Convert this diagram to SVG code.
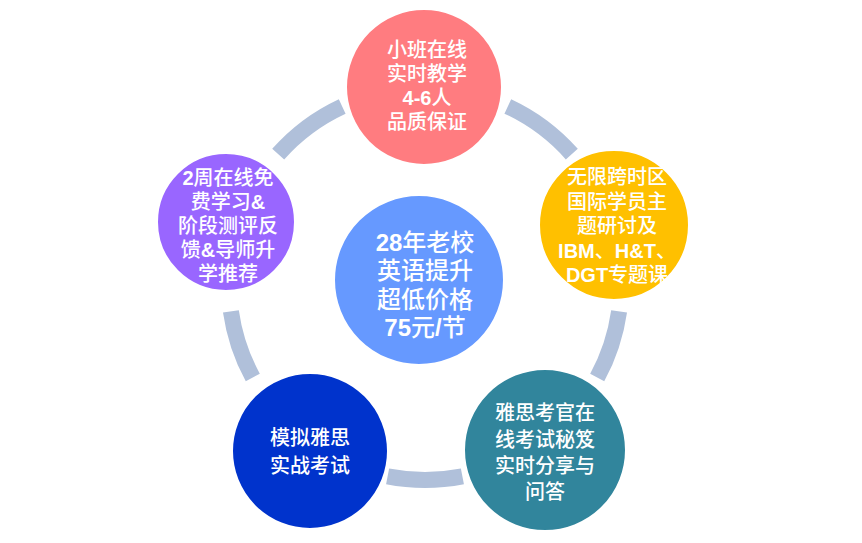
<svg xmlns="http://www.w3.org/2000/svg" width="862" height="543" viewBox="0 0 862 543">
<style>
.ring{fill:none;stroke:#B0C0DA;stroke-width:16;stroke-linecap:butt}
.node{stroke:#FFFFFF;stroke-width:2}
.t{font-family:"Liberation Sans","Noto Sans CJK SC",sans-serif;font-weight:500;fill:#FFFFFF;text-anchor:middle;font-size:20px}
.tc{font-size:24px}
.b{font-weight:bold}
</style>
<rect width="862" height="543" fill="#FFFFFF"/>
<g id="connectors">
<path class="ring" d="M 278.2 154.1 A 196 196 0 0 1 342.2 106.4"/>
<path class="ring" d="M 507.8 106.4 A 196 196 0 0 1 571.8 154.1"/>
<path class="ring" d="M 619.1 311.3 A 196 196 0 0 1 597.2 377.5"/>
<path class="ring" d="M 462.4 476.4 A 196 196 0 0 1 387.6 476.4"/>
<path class="ring" d="M 252.8 377.5 A 196 196 0 0 1 230.9 311.3"/>
</g>
<g id="node-center">
<circle class="node" cx="419" cy="280" r="85" fill="#6699FF"/>
<text class="t tc" x="425" y="251"><tspan class="b">28</tspan>年老校</text>
<text class="t tc" x="425" y="279">英语提升</text>
<text class="t tc" x="425" y="308">超低价格</text>
<text class="t tc" x="425" y="336"><tspan class="b">75</tspan>元<tspan class="b">/</tspan>节</text>
</g>
<g id="node-top">
<circle class="node" cx="424" cy="87" r="78" fill="#FF7C80"/>
<text class="t" x="427" y="57">小班在线</text>
<text class="t" x="427" y="81">实时教学</text>
<text class="t" x="427" y="105"><tspan class="b">4-6</tspan>人</text>
<text class="t" x="427" y="129">品质保证</text>
</g>
<g id="node-right">
<circle class="node" cx="614" cy="225" r="75" fill="#FFC000"/>
<text class="t" x="617" y="184">无限跨时区</text>
<text class="t" x="617" y="209">国际学员主</text>
<text class="t" x="617" y="233">题研讨及</text>
<text class="t" x="617" y="258"><tspan class="b">IBM</tspan>、<tspan class="b">H&amp;T</tspan>、</text>
<text class="t" x="617" y="282"><tspan class="b">DGT</tspan>专题课</text>
</g>
<g id="node-bottom-right">
<circle class="node" cx="545" cy="450" r="81" fill="#31859C"/>
<text class="t" x="545" y="420">雅思考官在</text>
<text class="t" x="545" y="447">线考试秘笈</text>
<text class="t" x="545" y="473">实时分享与</text>
<text class="t" x="545" y="499">问答</text>
</g>
<g id="node-bottom-left">
<circle class="node" cx="310" cy="451" r="78" fill="#0033CC"/>
<text class="t" x="310" y="445">模拟雅思</text>
<text class="t" x="310" y="473">实战考试</text>
</g>
<g id="node-left">
<circle class="node" cx="226" cy="222" r="69" fill="#9966FF"/>
<text class="t" x="228" y="185"><tspan class="b">2</tspan>周在线免</text>
<text class="t" x="228" y="209">费学习<tspan class="b">&amp;</tspan></text>
<text class="t" x="228" y="233">阶段测评反</text>
<text class="t" x="228" y="257">馈<tspan class="b">&amp;</tspan>导师升</text>
<text class="t" x="228" y="281">学推荐</text>
</g>
</svg>
